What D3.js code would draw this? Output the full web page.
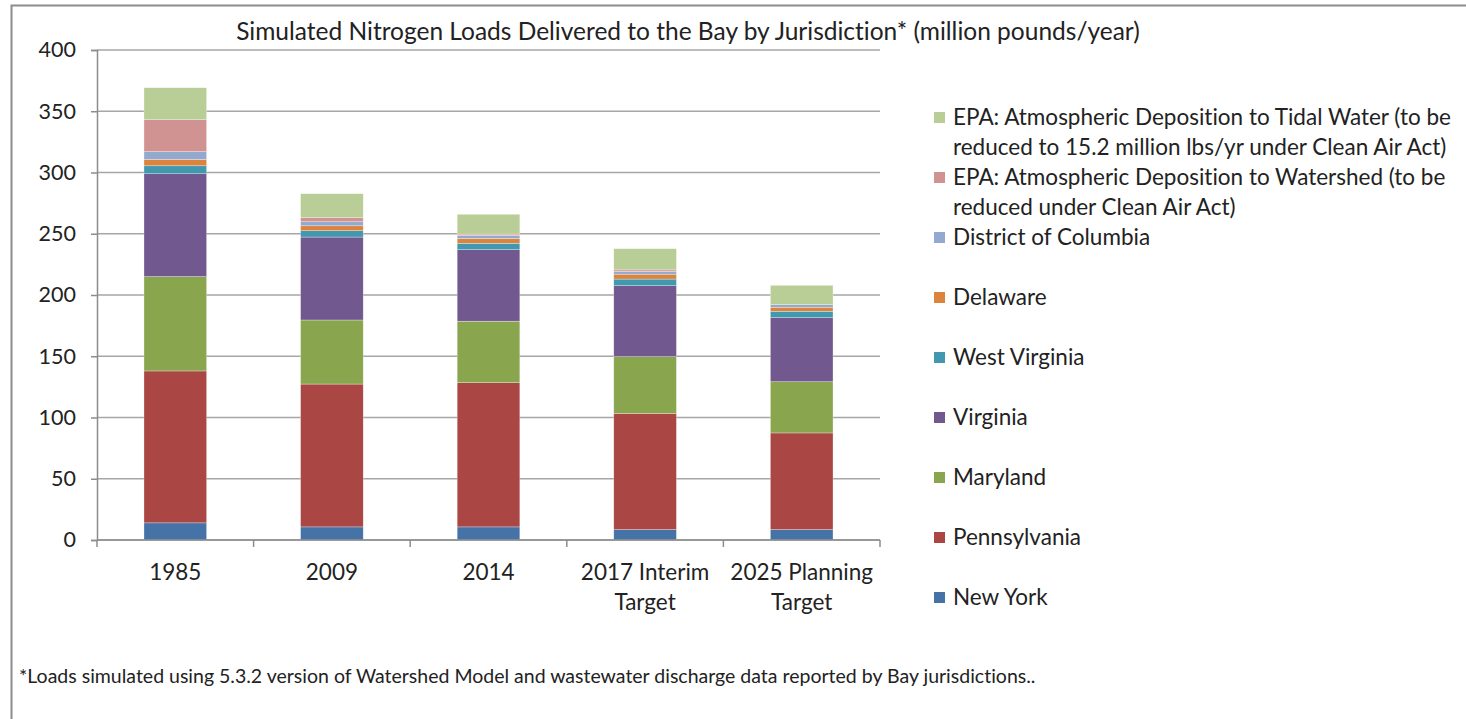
<!DOCTYPE html>
<html>
<head>
<meta charset="utf-8">
<script src="https://cdn.jsdelivr.net/npm/d3@7"></script>
<style>
  body { margin: 0; background: #fff; }
  text { font-family: Lato, "Open Sans", sans-serif; fill: #222; font-variant-ligatures: none; }
</style>
</head>
<body>
<div id="canvas"></div>
<script>
"use strict"

/* Data (million pounds/year) */
let categories = ["1985", "2009", "2014", "2017 Interim Target", "2025 Planning Target"];
let seriesNames = ["New York", "Pennsylvania", "Maryland", "Virginia", "West Virginia",
    "Delaware", "District of Columbia",
    "EPA: Atmospheric Deposition to Watershed (to be reduced under Clean Air Act)",
    "EPA: Atmospheric Deposition to Tidal Water (to be reduced to 15.2 million lbs/yr under Clean Air Act)"];
let newYork = [14, 10.7, 10.7, 8.5, 8.5];
let pennsylvania = [124, 116.6, 117.7, 94.8, 78.9];
let maryland = [77, 52.3, 50.2, 46.4, 41.8];
let virginia = [84, 67.7, 58.4, 57.9, 52.3];
let westVirginia = [6.5, 5.2, 5.2, 5.4, 5.2];
let delaware = [5.2, 4, 4, 4, 3.3];
let districtOfColumbia = [6.3, 3.3, 2.4, 2.2, 2.1];
let epaWatershed = [26.1, 3.3, 1.1, 1.3, 0];
let epaTidal = [26.1, 19.6, 16.2, 17.3, 15.8];
let yTicks = [0, 50, 100, 150, 200, 250, 300, 350, 400];

let title = "Simulated Nitrogen Loads Delivered to the Bay by Jurisdiction* (million pounds/year)";
let footnote = "*Loads simulated using 5.3.2 version of Watershed Model and wastewater discharge data reported by Bay jurisdictions..";

/* Legend wrapping as in the original */
let legendLines = [
    ["New York"], ["Pennsylvania"], ["Maryland"], ["Virginia"], ["West Virginia"],
    ["Delaware"], ["District of Columbia"],
    ["EPA: Atmospheric Deposition to Watershed (to be", "reduced under Clean Air Act)"],
    ["EPA: Atmospheric Deposition to Tidal Water (to be", "reduced to 15.2 million lbs/yr under Clean Air Act)"]
];

let colors = ["#4572a7", "#aa4643", "#89a54e", "#71588f", "#4198af",
    "#db843d", "#93a9cf", "#d19392", "#b9cd96"];

/* Drawing configuration */
let svgWidth = 1466;
let svgHeight = 719;
let plot = { left: 97, right: 880, top: 50, bottom: 540 };
let labelSize = 22.5;

let svg = d3.select("#canvas")
    .append("svg")
    .attr("width", svgWidth)
    .attr("height", svgHeight);

/* chart frame (runs off the right and bottom edge) */
svg.append("rect")
    .attr("x", 11.5)
    .attr("y", 5.5)
    .attr("width", svgWidth)
    .attr("height", svgHeight)
    .attr("fill", "none")
    .attr("stroke", "#8c8c8c")
    .attr("stroke-width", 2);

let table = categories.map(function (c, i) {
    return {
        category: c,
        s0: newYork[i], s1: pennsylvania[i], s2: maryland[i], s3: virginia[i],
        s4: westVirginia[i], s5: delaware[i], s6: districtOfColumbia[i],
        s7: epaWatershed[i], s8: epaTidal[i]
    };
});
let keys = seriesNames.map(function (d, i) { return "s" + i; });
let stacked = d3.stack().keys(keys)(table);

let xScale = d3.scaleBand()
    .domain(categories)
    .range([plot.left, plot.right])
    .paddingInner(0.6)
    .paddingOuter(0.3);

let yScale = d3.scaleLinear()
    .domain([0, 400])
    .range([plot.bottom, plot.top]);

/* gridlines */
svg.append("g")
    .selectAll("line")
    .data(yTicks)
    .join("line")
    .attr("x1", plot.left)
    .attr("x2", plot.right)
    .attr("y1", function (d) { return yScale(d); })
    .attr("y2", function (d) { return yScale(d); })
    .attr("stroke", "#a6a6a6")
    .attr("stroke-width", 1.5);

/* y axis */
let yAxis = svg.append("g")
    .attr("transform", "translate(" + plot.left + ",0)")
    .call(d3.axisLeft(yScale).tickValues(yTicks).tickSize(6).tickPadding(15));
yAxis.select(".domain").attr("stroke", "#8c8c8c").attr("stroke-width", 1.5);
yAxis.selectAll(".tick line").attr("stroke", "#8c8c8c").attr("stroke-width", 1.5);
yAxis.selectAll(".tick text")
    .attr("font-size", 21.5)
    .attr("fill", "#222")
    .style("font-family", "Lato, sans-serif");

/* stacked bars */
svg.append("g")
    .selectAll("g")
    .data(stacked)
    .join("g")
    .attr("fill", function (d, i) { return colors[i]; })
    .selectAll("rect")
    .data(function (d) { return d; })
    .join("rect")
    .attr("x", function (d) { return xScale(d.data.category); })
    .attr("width", xScale.bandwidth())
    .attr("y", function (d) { return yScale(d[1]); })
    .attr("height", function (d) { return yScale(d[0]) - yScale(d[1]); })
    .attr("stroke", "#ffffff")
    .attr("stroke-opacity", 0.5)
    .attr("stroke-width", 0.6);

/* x axis: ticks between categories */
let step = xScale.step();
let boundaries = d3.range(categories.length + 1).map(function (i) {
    return plot.left + i * step;
});
svg.append("line")
    .attr("x1", plot.left)
    .attr("x2", plot.right)
    .attr("y1", plot.bottom)
    .attr("y2", plot.bottom)
    .attr("stroke", "#8c8c8c")
    .attr("stroke-width", 1.5);
svg.append("g")
    .selectAll("line")
    .data(boundaries)
    .join("line")
    .attr("x1", function (d) { return d; })
    .attr("x2", function (d) { return d; })
    .attr("y1", plot.bottom)
    .attr("y2", plot.bottom + 7)
    .attr("stroke", "#8c8c8c")
    .attr("stroke-width", 1.5);

/* category labels, wrapped onto two lines when too wide */
let catLabels = svg.append("g")
    .selectAll("text")
    .data(categories)
    .join("text")
    .attr("x", function (d) { return xScale(d) + xScale.bandwidth() / 2; })
    .attr("y", 580)
    .attr("text-anchor", "middle")
    .attr("font-size", labelSize);
catLabels.each(function (d) {
    let words = d.split(" ");
    let lines = words.length > 2 ? [words.slice(0, 2).join(" "), words.slice(2).join(" ")] : [d];
    d3.select(this).selectAll("tspan")
        .data(lines)
        .join("tspan")
        .attr("x", xScale(d) + xScale.bandwidth() / 2)
        .attr("dy", function (l, i) { return i === 0 ? 0 : 30; })
        .text(function (l) { return l; });
});

/* title */
svg.append("text")
    .attr("x", 688)
    .attr("y", 40)
    .attr("text-anchor", "middle")
    .attr("font-size", 24.5)
    .text(title);

/* legend, listed top-down in reverse stack order */
let legendOrder = d3.range(seriesNames.length).reverse();
let legendTop = 117;
let rowGap = 60;
let legend = svg.append("g")
    .selectAll("g")
    .data(legendOrder)
    .join("g")
    .attr("transform", function (d, i) {
        return "translate(934," + (legendTop + i * rowGap) + ")";
    });
legend.append("rect")
    .attr("x", 0)
    .attr("y", -5)
    .attr("width", 11)
    .attr("height", 11)
    .attr("fill", function (d) { return colors[d]; });
legend.append("text")
    .attr("x", 19)
    .attr("y", 8)
    .attr("font-size", labelSize)
    .selectAll("tspan")
    .data(function (d) { return legendLines[d]; })
    .join("tspan")
    .attr("x", 19)
    .attr("dy", function (l, i) { return i === 0 ? 0 : 30; })
    .text(function (l) { return l; });

/* footnote */
svg.append("text")
    .attr("x", 19)
    .attr("y", 683)
    .attr("font-size", 19.5)
    .text(footnote);
</script>
</body>
</html>
